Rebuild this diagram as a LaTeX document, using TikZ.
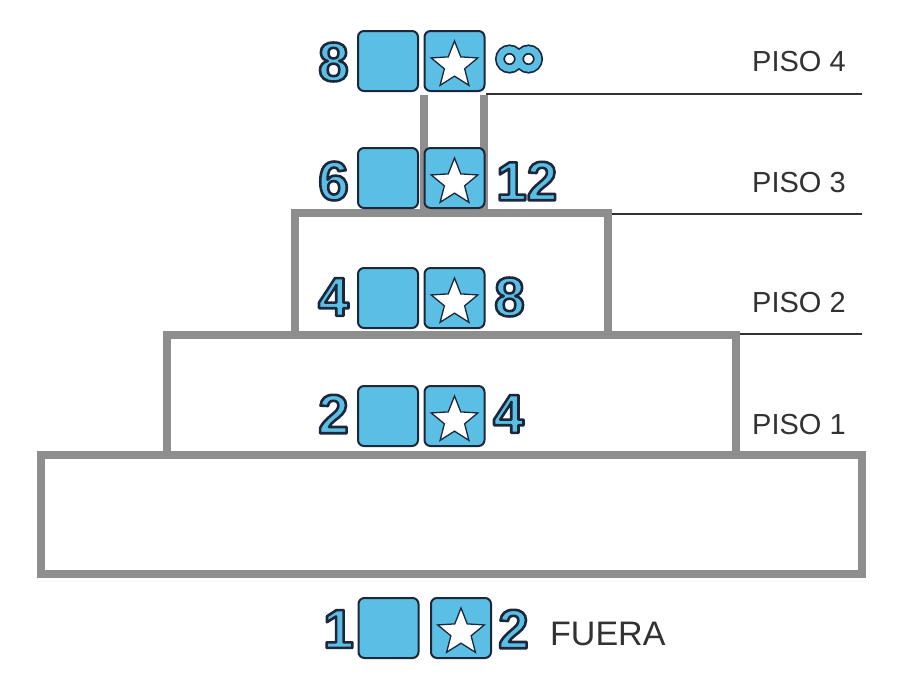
\documentclass[tikz,border=0pt]{standalone}
\usepackage{fontspec}
\setmainfont{Liberation Sans}
\usetikzlibrary{shapes.geometric,calc}
\definecolor{skyb}{RGB}{91,190,228}
\definecolor{navy}{RGB}{28,40,58}
\definecolor{wallg}{RGB}{142,142,142}
\definecolor{labg}{RGB}{50,50,50}
\newcommand\strk[1]{\special{pdf:literal direct 2 Tr 2.6 w 1 j 0.110 0.157 0.227 RG}#1\special{pdf:literal direct 0 Tr}}
\newcommand\outlnum[4]{%
  \node[numf,text=skyb,anchor=#2] (#1) at (#3) {\strk{#4}};}
\newcommand\sqpair[4]{%
  \node[sq] (#1l) at (#2,#4) {};
  \node[sq] (#1r) at (#3,#4) {};
  \node[starn] (#1s) at ($(#1r.center)+(0,4.5)$) {};}
\begin{document}
\begin{tikzpicture}[x=1pt,y=-1pt,
  wall/.style={draw=wallg,line width=8pt},
  floorline/.style={draw=labg,line width=1.3pt},
  sq/.style={draw=navy,fill=skyb,line width=2pt,rounded corners=6pt,minimum size=60pt,inner sep=0pt},
  starn/.style={star,star points=5,star point ratio=2.3,draw=navy,fill=white,line width=1.3pt,minimum size=49pt,inner sep=0pt},
  numf/.style={font=\fontsize{55}{55}\selectfont\bfseries,inner sep=0pt},
  lab/.style={font=\fontsize{29}{29}\selectfont,text=labg,anchor=west,inner sep=0pt}]
\useasboundingbox (0,0) rectangle (901,699);
% walls
\draw[wall] (41,455) rectangle (862,574);
\draw[wall] (167,455) -- (167,335) -- (736,335) -- (736,455);
\draw[wall] (295,335) -- (295,213) -- (608,213) -- (608,335);
\draw[wall] (424,213) -- (424,95);
\draw[wall] (484,213) -- (484,95);
% floor lines
\coordinate (f4a) at (486,94);  \coordinate (f4b) at (862,94);
\coordinate (f3a) at (612,214); \coordinate (f3b) at (862,214);
\coordinate (f2a) at (740,334); \coordinate (f2b) at (862,334);
\draw[floorline] (f4a) -- (f4b);
\draw[floorline] (f3a) -- (f3b);
\draw[floorline] (f2a) -- (f2b);
% squares
\sqpair{p4}{388}{454.5}{61}
\sqpair{p3}{388}{454.5}{178}
\sqpair{p2}{388}{454.5}{298}
\sqpair{p1}{388}{454.5}{416}
\sqpair{pf}{388.5}{461}{628}
% numbers
\outlnum{n4l}{east}{349,62}{8}
\outlnum{n3l}{east}{349,181}{6}
\outlnum{n3r}{west}{496,181}{12}
\outlnum{n2l}{east}{349,297}{4}
\outlnum{n2r}{west}{494,297}{8}
\outlnum{n1l}{east}{349,414}{2}
\outlnum{n1r}{west}{493,414}{4}
\outlnum{nfl}{east}{354,629}{1}
\outlnum{nfr}{west}{498,629}{2}
% infinity
\draw[navy,line width=10pt] (509.5,59) ellipse (9.5 and 9.5) (528.5,59) ellipse (9.5 and 9.5);
\draw[skyb,line width=6.5pt] (509.5,59) ellipse (9.5 and 9.5) (528.5,59) ellipse (9.5 and 9.5);
% labels
\node[lab] (l4) at (752,62) {PISO 4};
\node[lab] (l3) at (752,183) {PISO 3};
\node[lab] (l2) at (752,303) {PISO 2};
\node[lab] (l1) at (752,425) {PISO 1};
\node[lab,font=\fontsize{34}{34}\selectfont] (lf) at (550,634) {FUERA};
\end{tikzpicture}
\end{document}
